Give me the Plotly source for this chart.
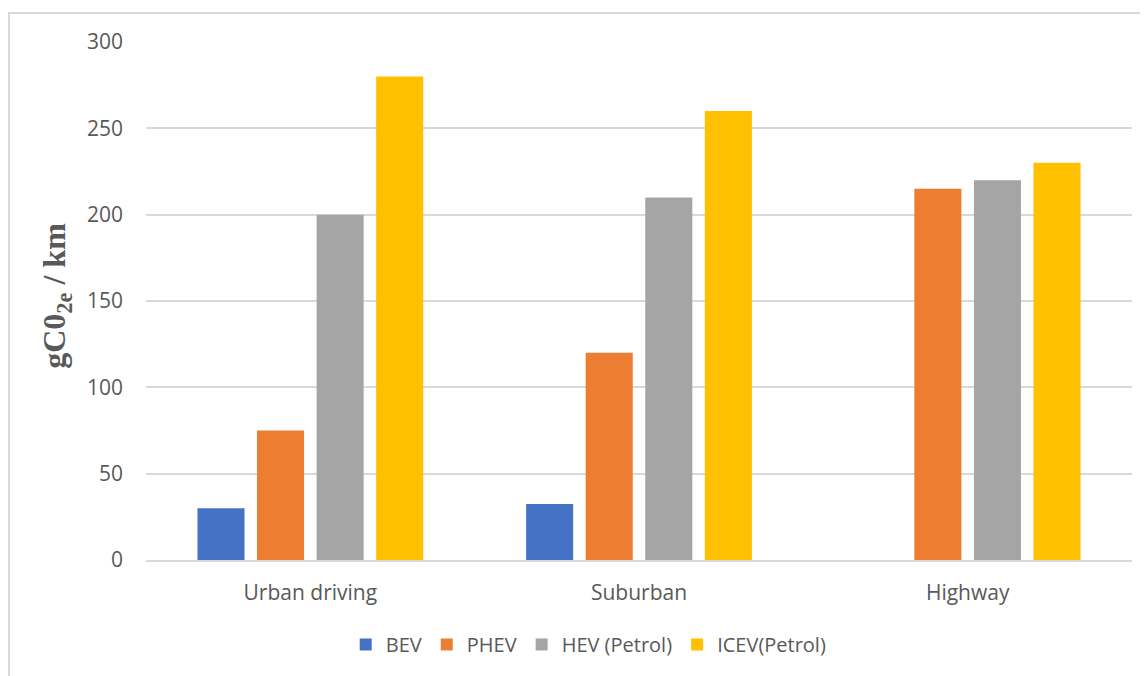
import plotly.graph_objects as go

# Dados
categorias = ["Urban driving", "Suburban", "Highway"]
bev = [30, 32.5, None]
phev = [75, 120, 215]
hev = [200, 210, 220]
icev = [280, 260, 230]

series = [("BEV", bev, "#4472C4"), ("PHEV", phev, "#ED7D31"),
          ("HEV (Petrol)", hev, "#A5A5A5"), ("ICEV(Petrol)", icev, "#FFC000")]

TX = "#595959"; GD = "#d9d9d9"

fig = go.Figure()
for nome, vals, cor in series:
    fig.add_trace(go.Bar(name=nome, x=categorias, y=vals, marker_color=cor,
                         marker_line_width=0))

# a página tem 8px de margem no body -> figura 8px menor
fig.update_layout(
    width=1140, height=668,
    paper_bgcolor="white", plot_bgcolor="white",
    font=dict(family="Open Sans, Segoe UI, Arial", size=21, color=TX),
    margin=dict(l=138, r=16, t=34, b=114),
    barmode="group", bargap=0.275, bargroupgap=0.21,
    showlegend=True,
    legend=dict(orientation="h", x=0.449, xanchor="center", y=-0.163, yanchor="middle",
                font=dict(size=20, color=TX), itemwidth=30, traceorder="normal"),
    annotations=[dict(text="<b>gC0<sub>2e</sub> / km</b>", textangle=-90,
                      xref="paper", yref="paper", x=-0.0903, y=0.51,
                      xanchor="center", yanchor="middle", showarrow=False,
                      font=dict(family="Liberation Serif, Times New Roman, serif",
                                size=32, color=TX))],
    shapes=[dict(type="rect", xref="paper", yref="paper",
                 x0=(1 - 138) / 986, x1=1.1, y0=-0.3, y1=(554 - 5) / 520,
                 line=dict(color=GD, width=2), fillcolor="rgba(0,0,0,0)", layer="below")],
)
fig.update_yaxes(range=[0, 300], dtick=50, gridcolor=GD, gridwidth=1.5,
                 zeroline=False, showline=False, ticklabelstandoff=22,
                 tickfont=dict(size=21, color=TX))
fig.update_xaxes(showline=True, linecolor=GD, linewidth=2, ticks="",
                 ticklabelstandoff=13, tickfont=dict(size=21, color=TX))

fig.write_html("out.html")
